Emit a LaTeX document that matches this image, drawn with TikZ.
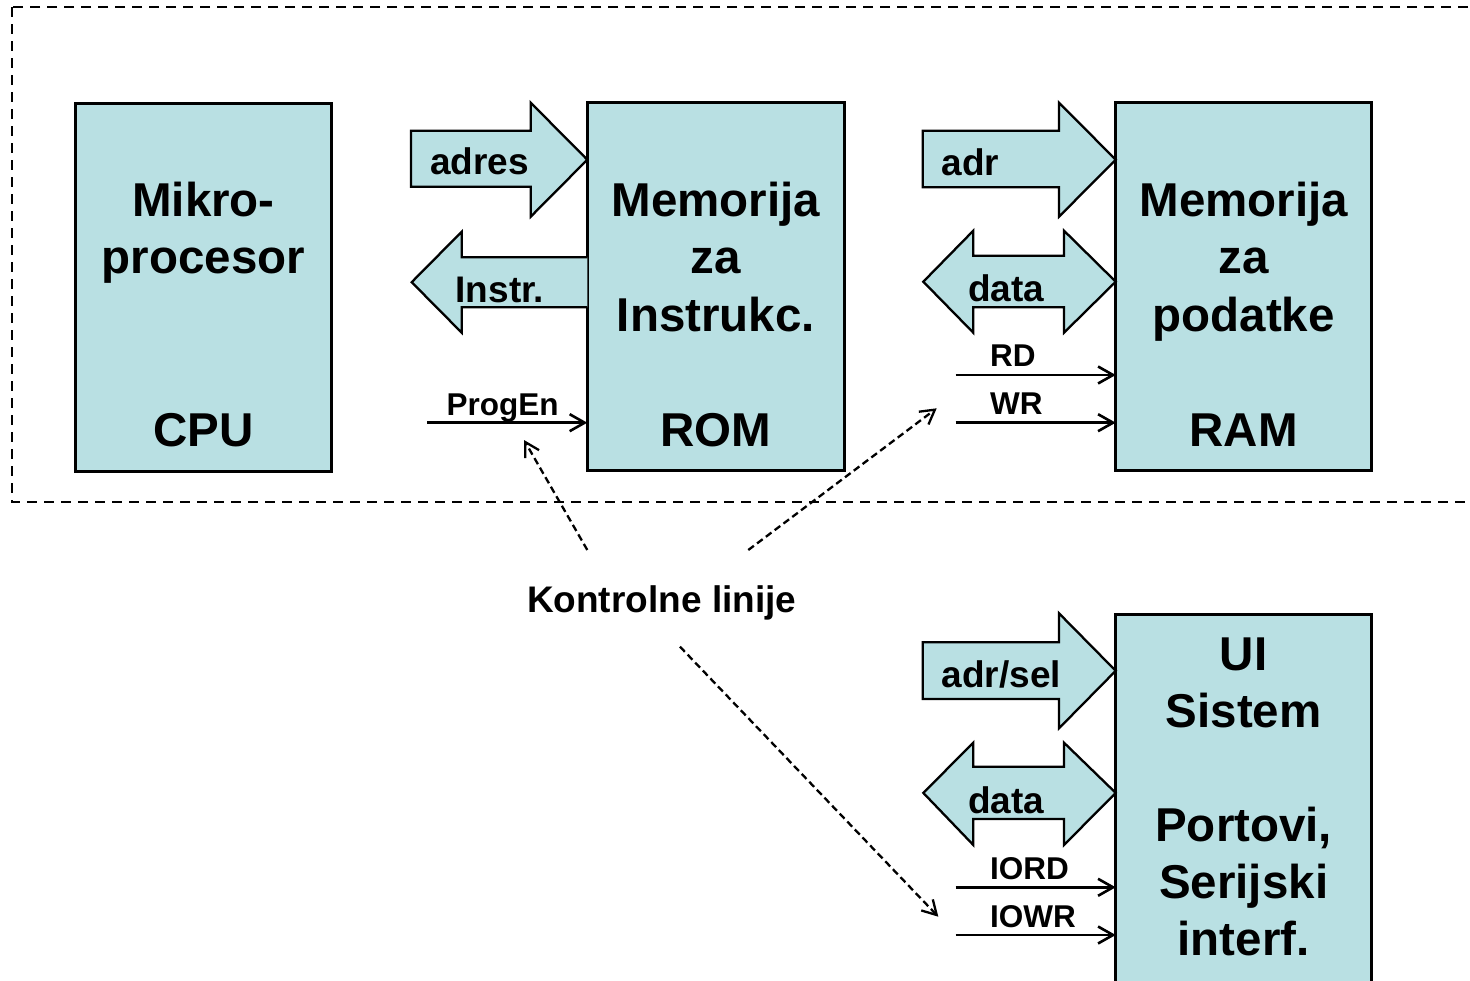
\documentclass[tikz,border=0pt]{standalone}
\usepackage{fontspec}
\setmainfont{Liberation Sans}
\usetikzlibrary{arrows.meta}
\definecolor{boxfill}{RGB}{185,224,227}
\begin{document}
\begin{tikzpicture}[x=1pt,y=-1pt,
  blk/.style={draw=black, line width=3pt, fill=boxfill, inner sep=0pt, outer sep=0pt},
  busarrow/.style={draw=black, line width=2.3pt, fill=boxfill, line join=miter},
  bigtext/.style={font=\fontsize{47.5}{56}\selectfont\bfseries, anchor=base, inner sep=0pt},
  bustext/.style={font=\fontsize{37}{40}\selectfont\bfseries, anchor=base west, inner sep=0pt},
  sigtext/.style={font=\fontsize{31.5}{34}\selectfont\bfseries, anchor=base west, inner sep=0pt},
  sig/.style={line width=2.6pt, -{Straight Barb[length=15pt, width=17pt, line width=2.6pt]}},
  ctl/.style={line width=2.3pt, dash pattern=on 7pt off 4pt,
    -{Straight Barb[length=14pt, width=16pt, line width=2.3pt]}},
]
\useasboundingbox (0,0) rectangle (1470,981);
\clip (0,0) rectangle (1470,981);

% system boundary
\draw[line width=2.4pt, dash pattern=on 10pt off 7pt] (11.7,7.3) rectangle (1495,501.7);

% main blocks
\node[blk, minimum width=256.4pt, minimum height=368pt] (cpu) at (203.5,287.2) {};
\node[blk, minimum width=257pt, minimum height=368pt] (rom) at (715.8,286.6) {};
\node[blk, minimum width=256pt, minimum height=368pt] (ram) at (1243.7,286.6) {};
\node[blk, minimum width=256pt, minimum height=390pt] (io) at (1243.7,809) {};

% block texts
\node[bigtext] (cpuA) at (203.5,216.7) {Mikro-};
\node[bigtext] (cpuB) at (203.5,274) {procesor};
\node[bigtext] (cpuC) at (203.5,446.5) {CPU};

\node[bigtext] (romA) at (715.8,216.7) {Memorija};
\node[bigtext] (romB) at (715.8,274) {za};
\node[bigtext] (romC) at (715.8,331.7) {Instrukc.};
\node[bigtext] (romD) at (715.8,446.7) {ROM};

\node[bigtext] (ramA) at (1243.7,216.7) {Memorija};
\node[bigtext] (ramB) at (1243.7,274) {za};
\node[bigtext] (ramC) at (1243.7,331.7) {podatke};
\node[bigtext] (ramD) at (1243.7,446.7) {RAM};

\node[bigtext] (ioA) at (1243.7,670) {UI};
\node[bigtext] (ioB) at (1243.7,727) {Sistem};
\node[bigtext] (ioC) at (1243.7,841.7) {Portovi,};
\node[bigtext] (ioD) at (1243.7,898.3) {Serijski};
\node[bigtext] (ioE) at (1243.7,955) {interf.};

% bus arrows
\draw[busarrow] (411,130.7) -- (530.7,130.7) -- (530.7,102.7) -- (rom.west |- 0,159.7)
  -- (530.7,216.7) -- (530.7,186.7) -- (411,186.7) -- cycle;
\draw[busarrow] (rom.west |- 0,257.3) -- (461.7,257.3) -- (461.7,231.7) -- (411.7,282.2)
  -- (461.7,332.7) -- (461.7,307.3) -- (rom.west |- 0,307.3);

\draw[busarrow] (922.7,130.7) -- (1059,130.7) -- (1059,102.7) -- (ram.west |- 0,159.7)
  -- (1059,216.7) -- (1059,187.3) -- (922.7,187.3) -- cycle;
\draw[busarrow] (923.3,281.7) -- (973.3,230.7) -- (973.3,255.7) -- (1064,255.7) -- (1064,230.7)
  -- (ram.west |- 0,281.7) -- (1064,332.7) -- (1064,307.3) -- (973.3,307.3) -- (973.3,332.7) -- cycle;

\draw[busarrow] (922.7,642.3) -- (1059,642.3) -- (1059,613.3) -- (io.west |- 0,670.8)
  -- (1059,728.3) -- (1059,699) -- (922.7,699) -- cycle;
\draw[busarrow] (923.3,792.9) -- (973.3,742.7) -- (973.3,766.7) -- (1064,766.7) -- (1064,742.7)
  -- (io.west |- 0,792.9) -- (1064,845) -- (1064,819) -- (973.3,819) -- (973.3,845) -- cycle;

% bus labels
\node[bustext] (busA) at (430,175) {adres};
\node[bustext] (busB) at (455.5,303) {Instr.};
\node[bustext] (busC) at (941.5,176) {adr};
\node[bustext] (busD) at (968,301.7) {data};
\node[bustext] (busE) at (941.5,687.3) {adr/sel};
\node[bustext] (busF) at (968,813.3) {data};

% control signals
\coordinate (pe) at (427.3,422.7);
\coordinate (rd) at (955.7,375);
\coordinate (wr) at (955.7,422.7);
\coordinate (iord) at (955.7,887.3);
\coordinate (iowr) at (955.7,935);
\draw[sig] (pe) -- (pe -| rom.west);
\draw[sig] (rd) -- (rd -| ram.west);
\draw[sig] (wr) -- (wr -| ram.west);
\draw[sig] (iord) -- (iord -| io.west);
\draw[sig] (iowr) -- (iowr -| io.west);

\node[sigtext] (peL) at (446.5,416) {ProgEn};
\node[sigtext] (rdL) at (990,366.7) {RD};
\node[sigtext] (wrL) at (990,415) {WR};
\node[sigtext] (iordL) at (990,879.3) {IORD};
\node[sigtext] (iowrL) at (990,927.3) {IOWR};

% control line callout
\node[font=\fontsize{37}{40}\selectfont\bfseries, anchor=base, inner sep=0pt]
  (ctlL) at (661.7,612.7) {Kontrolne linije};
\coordinate (k1a) at (587.3,550);
\coordinate (k1b) at (524,440);
\coordinate (k2a) at (748.3,550);
\coordinate (k2b) at (936.7,408.3);
\coordinate (k3a) at (680,646.7);
\coordinate (k3b) at (938.3,916.7);
\draw[ctl] (k1a) -- (k1b);
\draw[ctl] (k2a) -- (k2b);
\draw[ctl] (k3a) -- (k3b);
\end{tikzpicture}
\end{document}
